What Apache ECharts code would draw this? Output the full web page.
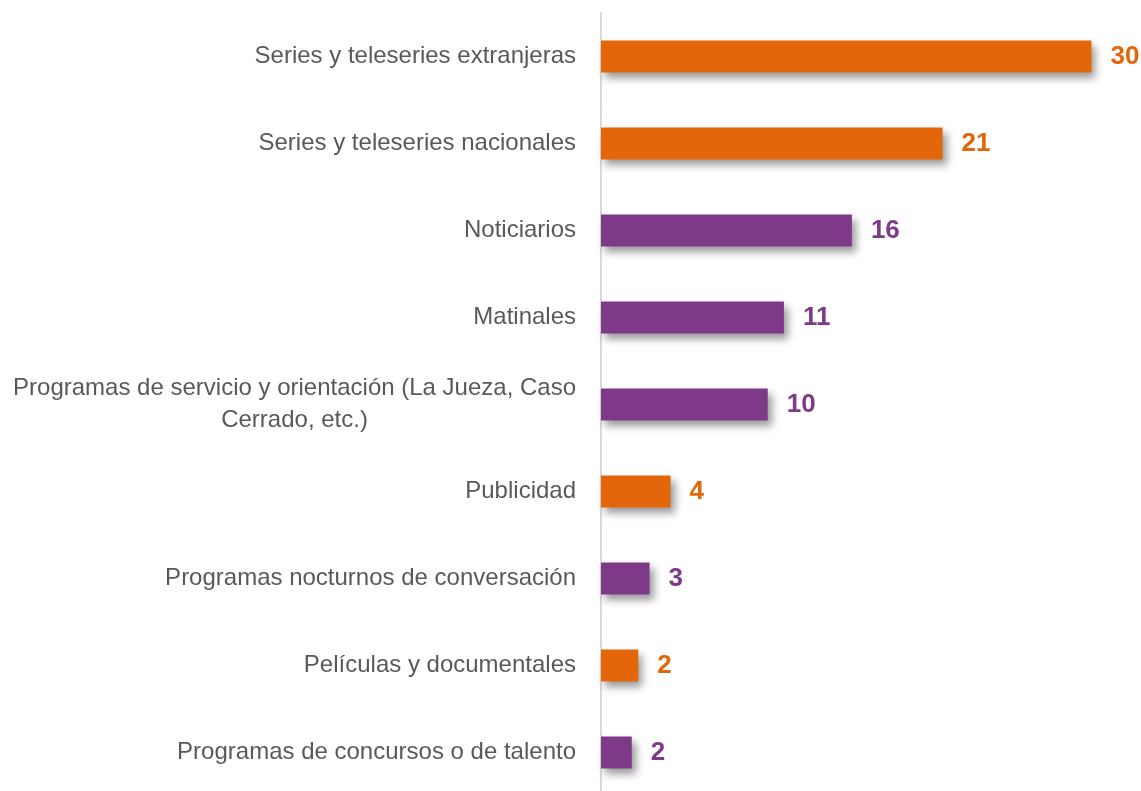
<!DOCTYPE html>
<html>
<head>
<meta charset="utf-8">
<script src="https://cdn.jsdelivr.net/npm/echarts@6/dist/echarts.min.js"></script>
<style>
  html, body { margin: 0; padding: 0; background: #ffffff; }
  #chart { width: 1141px; height: 791px; }
</style>
</head>
<body>
<div id="chart"></div>
<script>
  // datos (las etiquetas muestran el valor redondeado)
  var categories = [
    'Series y teleseries extranjeras',
    'Series y teleseries nacionales',
    'Noticiarios',
    'Matinales',
    'Programas de servicio y orientación (La Jueza, Caso\nCerrado, etc.)',
    'Publicidad',
    'Programas nocturnos de conversación',
    'Películas y documentales',
    'Programas de concursos o de talento'
  ];
  var values = [30.3, 21.1, 15.5, 11.3, 10.3, 4.3, 3.0, 2.3, 1.9];
  var groups = ['a', 'a', 'b', 'b', 'b', 'a', 'b', 'a', 'b'];

  var groupColor = { a: '#E3670A', b: '#7E3A88' };

  var chart = echarts.init(document.getElementById('chart'));

  var barData = values.map(function (v, i) {
    var c = groupColor[groups[i]];
    return {
      value: v,
      itemStyle: { color: c },
      label: { color: c }
    };
  });

  chart.setOption({
    animation: false,
    grid: {
      left: 601,
      top: 13,
      width: 518,
      height: 783,
      outerBoundsMode: 'none'
    },
    xAxis: {
      type: 'value',
      min: 0,
      max: 32,
      show: false
    },
    yAxis: {
      type: 'category',
      inverse: true,
      data: categories,
      axisLine: {
        show: true,
        lineStyle: { color: '#D9D9D9', width: 2 }
      },
      axisTick: { show: false },
      axisLabel: {
        margin: 25,
        formatter: function (v) {
          return v.split('\n').map(function (l) { return '{a|' + l + '}'; }).join('\n');
        },
        rich: {
          a: {
            align: 'center',
            fontSize: 24,
            lineHeight: 32,
            color: '#595959',
            fontFamily: '"Liberation Sans", Arial, sans-serif'
          }
        }
      }
    },
    series: [
      {
        type: 'bar',
        data: barData,
        barWidth: 32,
        itemStyle: {
          shadowBlur: 8,
          shadowOffsetX: 4,
          shadowOffsetY: 5,
          shadowColor: 'rgba(0,0,0,0.4)'
        },
        label: {
          show: true,
          position: 'right',
          distance: 19,
          fontSize: 26,
          fontWeight: 'bold',
          fontFamily: '"Liberation Sans", Arial, sans-serif',
          formatter: function (p) { return Math.round(p.value); }
        }
      }
    ]
  });
</script>
</body>
</html>
